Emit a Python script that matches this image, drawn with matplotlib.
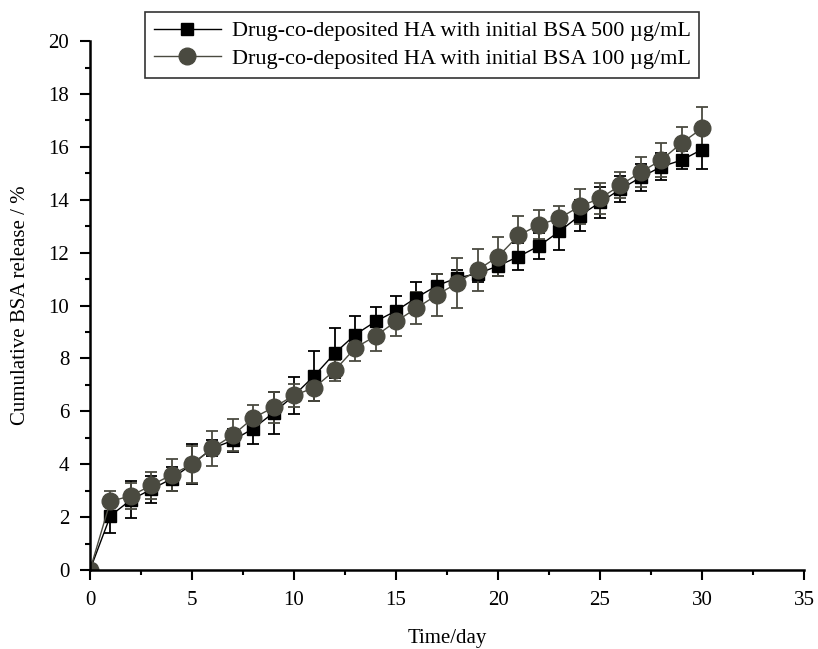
import numpy as np
import matplotlib.pyplot as plt
from matplotlib.lines import Line2D

plt.rcParams['font.family'] = ['Liberation Serif', 'DejaVu Serif']

days = list(range(0, 31))

bsa500 = [0, 2.05, 2.65, 3.05, 3.45, 4.0, 4.6, 4.9, 5.35, 5.95, 6.6,
          7.35, 8.2, 8.9, 9.4, 9.8, 10.3, 10.75, 11.05, 11.2, 11.5,
          11.85, 12.25, 12.8, 13.4, 13.9, 14.4, 14.85, 15.25, 15.5, 15.9]
err500 = [0, 0.65, 0.7, 0.5, 0.45, 0.75, 0.3, 0.45, 0.6, 0.8, 0.7,
          0.95, 0.95, 0.7, 0.55, 0.55, 0.6, 0.45, 0.3, 0.3, 0.4,
          0.5, 0.5, 0.7, 0.6, 0.6, 0.5, 0.5, 0.5, 0.35, 0.75]

bsa100 = [0, 2.6, 2.8, 3.2, 3.6, 4.0, 4.6, 5.1, 5.75, 6.15, 6.6,
          6.9, 7.55, 8.4, 8.85, 9.4, 9.9, 10.4, 10.85, 11.35, 11.85,
          12.65, 13.05, 13.3, 13.75, 14.05, 14.55, 15.05, 15.5, 16.15, 16.7]
err100 = [0, 0.4, 0.5, 0.5, 0.6, 0.7, 0.65, 0.6, 0.5, 0.6, 0.45,
          0.5, 0.4, 0.5, 0.55, 0.55, 0.6, 0.8, 0.95, 0.8, 0.75,
          0.75, 0.55, 0.45, 0.65, 0.6, 0.5, 0.55, 0.65, 0.6, 0.8]

labels = ['Drug-co-deposited HA with initial BSA 500 \u00b5g/mL',
          'Drug-co-deposited HA with initial BSA 100 \u00b5g/mL']

c500 = 'black'
c100 = '#4a4a40'

fig = plt.figure(figsize=(8.18, 6.49), dpi=100)
ax = fig.add_axes([0.110, 0.1217, 0.873, 0.815])

ax.errorbar(days, bsa500, yerr=err500, color=c500, marker='s', markersize=9,
            linewidth=1, elinewidth=1.3, capsize=4.5, capthick=1.3)
ax.errorbar(days, bsa100, yerr=err100, color=c100, marker='o', markersize=12,
            linewidth=1, elinewidth=1.3, capsize=4.5, capthick=1.3)

ax.set_xlim(0, 35)
ax.set_ylim(0, 20)
ax.set_xticks(range(0, 36, 5))
ax.set_yticks(range(0, 21, 2))
ax.set_xticks(np.arange(0, 35.1, 2.5), minor=True)
ax.set_yticks(range(0, 21, 1), minor=True)
ax.tick_params(axis='both', which='major', direction='out', length=7, width=1.5,
               labelsize=15, pad=8)
ax.tick_params(axis='both', which='minor', direction='out', length=3.5, width=1.5)
for s in ['top', 'right']:
    ax.spines[s].set_visible(False)
for s in ['left', 'bottom']:
    ax.spines[s].set_linewidth(1.8)

ax.set_xlabel('Time/day', fontsize=15, labelpad=14)
ax.set_ylabel('Cumulative BSA release / %', fontsize=15, labelpad=13)

handles = [Line2D([], [], color=c500, marker='s', markersize=9, linewidth=1),
           Line2D([], [], color=c100, marker='o', markersize=12, linewidth=1)]
leg = fig.legend(handles=handles, labels=labels, loc='upper left',
                 bbox_to_anchor=(145 / 818, 1 - 12 / 649), borderaxespad=0,
                 fontsize=16, frameon=True, fancybox=False, edgecolor='black',
                 handlelength=3, borderpad=0.4, labelspacing=0.3, handletextpad=0.5)
leg.get_frame().set_linewidth(1.2)

plt.savefig('out.png', dpi=100)
